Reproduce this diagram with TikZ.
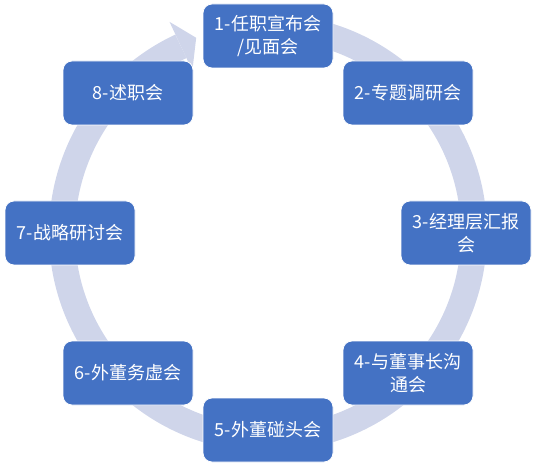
\documentclass[tikz,border=0pt]{standalone}
\usepackage{fontspec}
\newfontfamily\cjk{Noto Sans CJK SC}
\usetikzlibrary{calc}
\definecolor{boxblue}{RGB}{68,114,196}
\definecolor{bandcol}{RGB}{207,213,234}
\tikzset{
  stagebox/.style={draw=white, line width=0.8pt, fill=boxblue, rounded corners=9pt,
    minimum width=130pt, minimum height=64pt, inner sep=2pt, text=white,
    font=\cjk\fontsize{18}{23}\selectfont, align=center},
  band/.style={draw=bandcol, line width=26pt},
  bandhead/.style={fill=bandcol, draw=none}
}
\begin{document}
\begin{tikzpicture}[x=1pt,y=1pt]
\useasboundingbox (0,0) rectangle (537,471);
\coordinate (C) at (268,238);
% circular arrow
\draw[band] ($(C)+(88:206)$) arc[start angle=88, end angle=-245, radius=206];
\fill[bandhead] ($(C)+(115:233)$) -- ($(C)+(110.2:208)$) -- ($(C)+(115:179)$) -- cycle;
% stages
\node[stagebox] (s1) at (268,435) {1-任职宣布会\\/见面会};
\node[stagebox] (s2) at (408,378) {2-专题调研会};
\node[stagebox] (s3) at (466,238) {3-经理层汇报\\会};
\node[stagebox] (s4) at (408,98) {4-与董事长沟\\通会};
\node[stagebox] (s5) at (268,41) {5-外董碰头会};
\node[stagebox] (s6) at (128,98) {6-外董务虚会};
\node[stagebox] (s7) at (70,238) {7-战略研讨会};
\node[stagebox] (s8) at (128,378) {8-述职会};
\end{tikzpicture}
\end{document}
